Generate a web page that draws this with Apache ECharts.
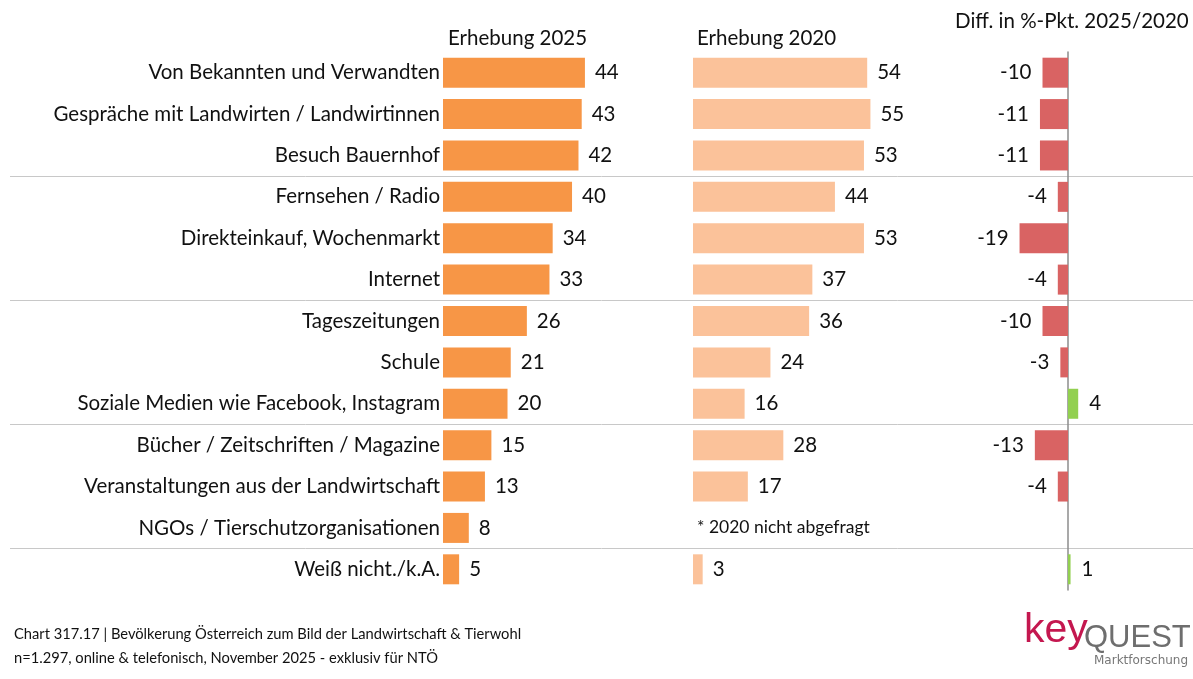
<!DOCTYPE html>
<html><head><meta charset="utf-8">
<script src="https://cdn.jsdelivr.net/npm/echarts@6/dist/echarts.min.js"></script>
<style>html,body{margin:0;padding:0;background:#fff}#c{width:1193px;height:679px}</style>
</head><body><div id="c"></div>
<script>
const categories = [
  "Von Bekannten und Verwandten",
  "Gespräche mit Landwirten / Landwirtinnen",
  "Besuch Bauernhof",
  "Fernsehen / Radio",
  "Direkteinkauf, Wochenmarkt",
  "Internet",
  "Tageszeitungen",
  "Schule",
  "Soziale Medien wie Facebook, Instagram",
  "Bücher / Zeitschriften / Magazine",
  "Veranstaltungen aus der Landwirtschaft",
  "NGOs / Tierschutzorganisationen",
  "Weiß nicht./k.A."
];
const values2025 = [44, 43, 42, 40, 34, 33, 26, 21, 20, 15, 13, 8, 5];
const values2020 = [54, 55, 53, 44, 53, 37, 36, 24, 16, 28, 17, null, 3];
const diffValues = [-10, -11, -11, -4, -19, -4, -10, -3, 4, -13, -4, null, 1];
// group separators sit after these many rows
const groupBreaks = [3, 6, 9, 12];

const FONT = 'Lato';
const TXT = '#111111';
const gTop = 52, gHeight = 538;
const FS = 20.5;

// row boundaries 0..N (used only for the separator lines)
const boundaries = categories.map((c, i) => String(i)).concat([String(categories.length)]);

const chart = echarts.init(document.getElementById('c'));
const catAxisBase = {
  type: 'category', data: categories, inverse: true,
  axisLine: {show: false}, axisTick: {show: false}, axisLabel: {show: false}, splitLine: {show: false}
};
const valAxisBase = {type: 'value', show: false, splitLine: {show: false}};

chart.setOption({
  animation: false,
  textStyle: {fontFamily: FONT},
  grid: [
    {left: 10, right: 0, top: gTop, height: gHeight},
    {left: 443, width: 200, top: gTop, height: gHeight},
    {left: 693, width: 200, top: gTop, height: gHeight},
    {left: 1017, width: 102, top: gTop, height: gHeight}
  ],
  xAxis: [
    Object.assign({gridIndex: 0, min: 0, max: 1}, valAxisBase),
    Object.assign({gridIndex: 1, min: 0, max: 62}, valAxisBase),
    Object.assign({gridIndex: 2, min: 0, max: 62}, valAxisBase),
    Object.assign({gridIndex: 3, min: -20, max: 20}, valAxisBase)
  ],
  yAxis: [
    {gridIndex: 0, type: 'category', data: boundaries, inverse: true, boundaryGap: false,
      axisLine: {show: false}, axisTick: {show: false}, axisLabel: {show: false},
      splitLine: {show: true, interval: (i) => groupBreaks.indexOf(i) >= 0, lineStyle: {color: '#c8c8c8', width: 1}}},
    Object.assign({}, catAxisBase, {gridIndex: 1,
      axisLabel: {show: true, margin: 3, fontSize: FS, color: TXT, fontFamily: FONT}}),
    Object.assign({}, catAxisBase, {gridIndex: 2}),
    Object.assign({}, catAxisBase, {gridIndex: 3,
      axisLine: {show: true, onZero: true, lineStyle: {color: '#8c8c8c', width: 1.5}}})
  ],
  series: [
    {type: 'bar', xAxisIndex: 1, yAxisIndex: 1, data: values2025, barWidth: 30,
      itemStyle: {color: '#F79646'},
      label: {show: true, position: 'right', distance: 10, fontSize: FS, color: TXT, fontFamily: FONT}},
    {type: 'bar', xAxisIndex: 2, yAxisIndex: 2, data: values2020, barWidth: 30,
      itemStyle: {color: '#FBC29A'},
      label: {show: true, position: 'right', distance: 10, fontSize: FS, color: TXT, fontFamily: FONT}},
    {type: 'bar', xAxisIndex: 3, yAxisIndex: 3, barWidth: 30,
      data: diffValues.map(v => v == null ? null : {
        value: v,
        itemStyle: {color: v < 0 ? '#D96363' : '#92D050'},
        label: {position: v < 0 ? 'left' : 'right'}
      }),
      label: {show: true, distance: 11, fontSize: FS, color: TXT, fontFamily: FONT}}
  ],
  graphic: [
    {type: 'text', left: 448, top: 28, style: {text: 'Erhebung 2025', fontSize: FS, fill: TXT, fontFamily: FONT}},
    {type: 'text', left: 697, top: 28, style: {text: 'Erhebung 2020', fontSize: FS, fill: TXT, fontFamily: FONT}},
    {type: 'text', left: 955, top: 11, style: {text: 'Diff. in %-Pkt. 2025/2020', fontSize: FS, fill: TXT, fontFamily: FONT}},
    {type: 'text', left: 697, top: 518, style: {text: '* 2020 nicht abgefragt', fontSize: 17.5, fill: TXT, fontFamily: FONT}},
    {type: 'text', left: 14, top: 627, style: {text: 'Chart 317.17 | Bevölkerung Österreich zum Bild der Landwirtschaft & Tierwohl', fontSize: 14.7, fill: TXT, fontFamily: FONT}},
    {type: 'text', left: 14, top: 651, style: {text: 'n=1.297, online & telefonisch, November 2025 - exklusiv für NTÖ', fontSize: 14.7, fill: TXT, fontFamily: FONT}},
    {type: 'text', left: 1024, top: 610, style: {text: 'key', fontSize: 41, fill: '#C4174F', fontFamily: 'Liberation Sans', letterSpacing: -1}},
    {type: 'text', left: 1084, top: 623, style: {text: 'QUEST', fontSize: 31, fill: '#6e6e6e', fontFamily: 'Liberation Sans'}},
    {type: 'text', left: 1094, top: 655, style: {text: 'Marktforschung', fontSize: 12, fill: '#777', fontFamily: 'DejaVu Sans'}}
  ]
});
</script></body></html>
